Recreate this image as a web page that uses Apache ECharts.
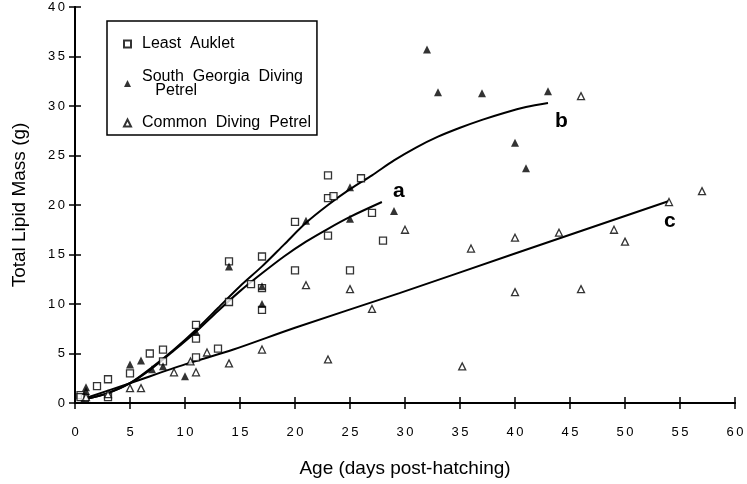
<!DOCTYPE html>
<html>
<head>
<meta charset="utf-8">
<script src="https://cdn.jsdelivr.net/npm/echarts@6/dist/echarts.min.js"></script>
<style>
  html, body { margin: 0; padding: 0; background: #fff; }
  #chart { width: 747px; height: 484px; }
</style>
</head>
<body>
<div id="chart"></div>
<script>
// observed points: [age, lipid mass]
const leastAuklet = [
  [0.5, 0.8], [0.9, 0.5], [0.5, 0.6], [2, 1.7], [3, 2.4], [3, 0.6], [5, 3.0], [6.8, 5.0],
  [8, 5.4], [8, 4.2], [11, 4.6], [11, 6.5], [11, 7.9], [13, 5.5], [14, 14.3], [14, 10.2],
  [16, 12.0], [17, 14.8], [17, 11.6], [17, 9.4], [20, 18.3], [20, 13.4], [23, 23.0],
  [23, 20.7], [23.5, 20.9], [23, 16.9], [25, 13.4], [26, 22.7], [27, 19.2], [28, 16.4]
];
const southGeorgia = [
  [1, 1.6], [1, 1.2], [5, 3.9], [6, 4.3], [7, 3.4], [8, 3.7], [10, 2.7], [11, 7.2],
  [14, 13.8], [17, 11.8], [17, 10.0], [21, 18.4], [25, 21.8], [25, 18.6], [29, 19.4],
  [32, 35.7], [33, 31.4], [37, 31.3], [43, 31.5], [40, 26.3], [41, 23.7]
];
const commonDiving = [
  [1, 0.6], [3, 0.9], [5, 1.5], [6, 1.5], [9, 3.1], [10.5, 4.2], [11, 3.1], [12, 5.1],
  [14, 4.0], [17, 5.4], [21, 11.9], [23, 4.4], [25, 11.5], [27, 9.5], [30, 17.5],
  [35.2, 3.7], [36, 15.6], [40, 16.7], [40, 11.2], [44, 17.2], [46, 11.5], [46, 31.0],
  [49, 17.5], [50, 16.3], [54, 20.3], [57, 21.4]
];

// fitted curves a, b, c
const curveA = [
  [1, 0.4], [3, 1.0], [5, 2.0], [7, 3.5], [9, 5.3], [11, 7.2], [13, 9.3], [15, 11.3],
  [17, 13.1], [19, 14.8], [21, 16.3], [23, 17.6], [25, 18.8], [27.9, 20.3]
];
const curveB = [
  [1, 0.4], [3, 1.0], [5, 2.0], [7, 3.6], [9, 5.4], [11, 7.4], [13, 9.6], [15, 11.8],
  [17, 13.8], [19, 16.0], [21, 18.2], [23, 20.0], [25, 21.6], [27, 23.0], [29, 24.5],
  [31, 25.8], [33, 26.9], [35, 27.8], [37, 28.6], [39, 29.3], [41, 29.9], [43, 30.3]
];
const curveC = [
  [1, 0.5], [5, 2.0], [10, 3.9], [14.4, 5.4], [20, 7.6], [29.5, 11.1], [40, 15.1], [54, 20.4]
];

const xTicks = [0, 60, 5];
const yTicks = [0, 40, 5];

const font = 'Liberation Sans, Arial, sans-serif';
const spaced = v => String(v).split('').join('\u2009');

const chart = echarts.init(document.getElementById('chart'));

function axisPair(type, range, inner) {
  return {
    type: 'value',
    min: range[0],
    max: range[1],
    interval: range[2],
    position: type === 'x' ? 'bottom' : 'left',
    splitLine: { show: false },
    axisLine: { show: true, onZero: false, lineStyle: { color: '#000', width: 2 } },
    axisTick: { show: true, inside: inner, length: 6, lineStyle: { color: '#000', width: 1.5 } },
    axisLabel: {
      show: !inner,
      color: '#000',
      fontFamily: font,
      fontSize: 13,
      margin: type === 'x' ? 23 : 10,
      formatter: spaced
    }
  };
}

const xMain = axisPair('x', xTicks, false);
xMain.name = 'Age (days post-hatching)';
xMain.nameLocation = 'middle';
xMain.nameGap = 56;
xMain.nameTextStyle = { color: '#000', fontFamily: font, fontSize: 19 };

const yMain = axisPair('y', yTicks, false);
yMain.name = 'Total Lipid Mass (g)';
yMain.nameLocation = 'middle';
yMain.nameGap = 46;
yMain.nameTextStyle = { color: '#000', fontFamily: font, fontSize: 19 };

const lineStyle = { color: '#000', width: 2 };
const curveLabel = (txt, offset) => ({
  show: true,
  formatter: txt,
  offset: offset,
  color: '#000',
  fontFamily: font,
  fontWeight: 'bold',
  fontSize: 21
});

const legendText = { color: '#000', fontFamily: font, fontSize: 16, lineHeight: 14, padding: [4, 0, 0, 6] };

const option = {
  animation: false,
  backgroundColor: '#fff',
  grid: { left: 75, right: 12, top: 7, bottom: 81 },
  xAxis: [xMain, axisPair('x', xTicks, true)],
  yAxis: [yMain, axisPair('y', yTicks, true)],
  legend: {
    orient: 'vertical',
    left: 107,
    top: 21,
    borderColor: '#000',
    borderWidth: 1.5,
    borderRadius: 0,
    padding: [14, 6, 3, 16],
    itemGap: 8,
    itemWidth: 7,
    itemHeight: 7,
    textStyle: legendText,
    formatter: name => ({
      'Least Auklet': 'Least  Auklet',
      'South Georgia Diving Petrel': 'South  Georgia  Diving\n   Petrel',
      'Common Diving Petrel': 'Common  Diving  Petrel'
    }[name]),
    data: [
      { name: 'Least Auklet', icon: 'rect' },
      {
        name: 'South Georgia Diving Petrel', icon: 'triangle',
        textStyle: Object.assign({}, legendText, { padding: [17, 0, 0, 6] })
      },
      { name: 'Common Diving Petrel', icon: 'triangle' }
    ]
  },
  series: [
    {
      type: 'line', data: curveA, smooth: 0.3, showSymbol: false, symbol: 'none',
      lineStyle: lineStyle, z: 2, silent: true,
      endLabel: curveLabel('a', [3, -11])
    },
    {
      type: 'line', data: curveB, smooth: 0.3, showSymbol: false, symbol: 'none',
      lineStyle: lineStyle, z: 2, silent: true,
      endLabel: curveLabel('b', [-1, 18])
    },
    {
      type: 'line', data: curveC, smooth: 0.3, showSymbol: false, symbol: 'none',
      lineStyle: lineStyle, z: 2, silent: true,
      endLabel: curveLabel('c', [-13, 20])
    },
    {
      name: 'Least Auklet', type: 'scatter', data: leastAuklet,
      symbol: 'rect', symbolSize: 7, z: 3,
      itemStyle: { color: '#fff', borderColor: '#000', borderWidth: 1.3 }
    },
    {
      name: 'South Georgia Diving Petrel', type: 'scatter', data: southGeorgia,
      symbol: 'triangle', symbolSize: 8, z: 3,
      itemStyle: { color: '#000', borderColor: '#000', borderWidth: 0 }
    },
    {
      name: 'Common Diving Petrel', type: 'scatter', data: commonDiving,
      symbol: 'triangle', symbolSize: 7, z: 3,
      itemStyle: { color: '#fff', borderColor: '#000', borderWidth: 1.3 }
    }
  ]
};

chart.setOption(option);
</script>
</body>
</html>
